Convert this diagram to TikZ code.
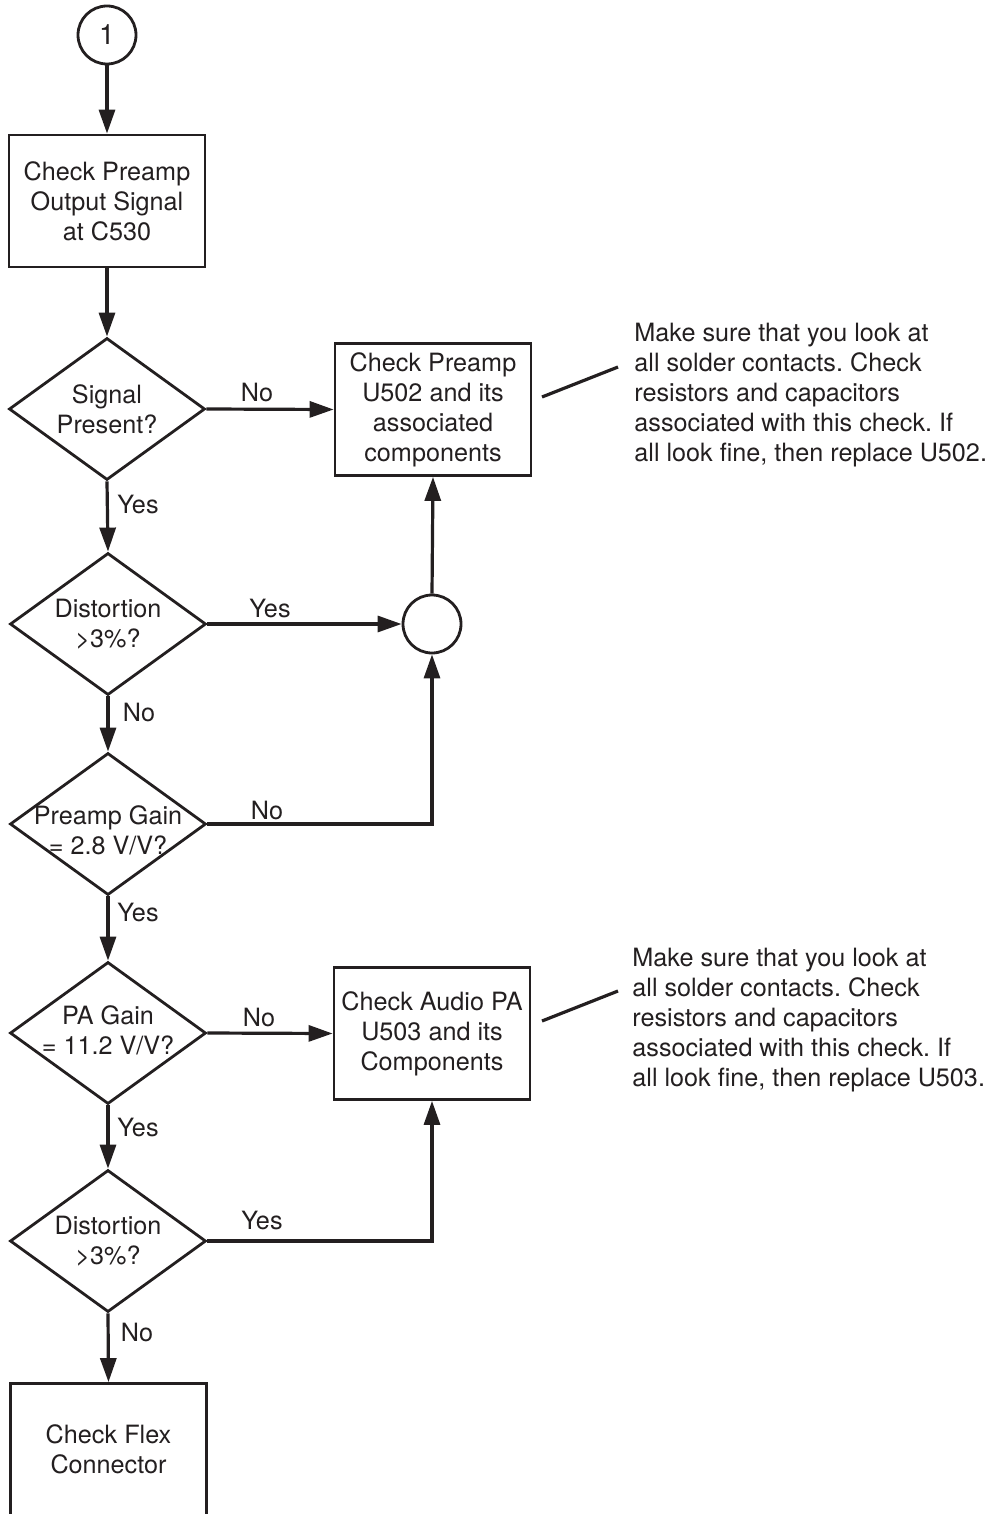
\documentclass[tikz,border=0pt]{standalone}
\usepackage{fontspec}
\setmainfont{TeX Gyre Heros}
\usetikzlibrary{arrows.meta,shapes.geometric,calc}
\definecolor{ink}{RGB}{35,31,32}
\tikzset{
  every node/.style={font=\fontsize{12.6}{15}\selectfont, text=ink},
  stepbox/.style={draw=ink, line width=1.4pt, rectangle, minimum width=98pt, minimum height=66pt, inner sep=0pt, align=center},
  decide/.style={draw=ink, line width=1.4pt, diamond, minimum width=98pt, minimum height=71pt, inner sep=0pt},
  dtext/.style={align=center, inner sep=0pt},
  joint/.style={draw=ink, line width=1.4pt, circle, minimum size=29pt, inner sep=0pt},
  flow/.style={draw=ink, line width=1.6pt, -{Triangle[length=12pt,width=8pt]}},
  plain/.style={draw=ink, line width=1.6pt},
  lab/.style={inner sep=0pt},
  note/.style={align=left, anchor=west, inner sep=0pt},
}
\begin{document}
\frenchspacing
\begin{tikzpicture}[x=0.5pt, y=-0.5pt]
\clip (0,0) rectangle (992,1514);
% start connector
\node[joint] (c1) at (107,35) {\fontsize{14}{15}\selectfont 1};
\node[stepbox] (b1) at (107,201) {Check Preamp\\Output Signal\\at C530};
% decisions
\node[decide] (d1) at (107,409) {};
\node[dtext] (t1) at (d1) {Signal\\Present?};
\node[decide] (d2) at (108,624) {};
\node[dtext] (t2) at (d2) {Distortion\\>3\%?};
\node[decide] (d3) at (108,824) {};
\node[dtext] (t3) at ($(d3)+(0,6)$) {Preamp Gain\\= 2.8 V/V?};
\node[decide] (d4) at (108,1033) {};
\node[dtext] (t4) at ($(d4)+(0,-3)$) {PA Gain\\= 11.2 V/V?};
\node[decide] (d5) at (108,1241) {};
\node[dtext] (t5) at (d5) {Distortion\\>3\%?};
% right side
\node[stepbox] (b2) at (433,409.5) {Check Preamp\\U502 and its\\associated\\components};
\node[joint] (c2) at (432,624) {};
\node[stepbox] (b3) at (432,1033.5) {Check Audio PA\\U503 and its\\Components};
\node[stepbox] (b4) at (108.5,1449.5) {Check Flex\\Connector};
% notes
\node[note] (n1) at (634,395) {Make sure that you look at\\all solder contacts. Check\\resistors and capacitors\\associated with this check. If\\all look fine, then replace U502.};
\node[note] (n2) at (632,1020) {Make sure that you look at\\all solder contacts. Check\\resistors and capacitors\\associated with this check. If\\all look fine, then replace U503.};
\coordinate (l1a) at (542,397);
\coordinate (l1b) at (618,367);
\coordinate (l2a) at (542,1021);
\coordinate (l2b) at (618,991);
\draw[plain] (l1a) -- (l1b);
\draw[plain] (l2a) -- (l2b);
% connectors
\draw[flow] (c1) -- (b1);
\draw[flow] (b1) -- (d1);
\draw[flow] (d1.east) -- (b2.west);
\draw[flow] (d1.south) -- (d2.north);
\draw[flow] (d2.east) -- (c2.west);
\draw[flow] (d2.south) -- (d3.north);
\draw[flow] (d3.east) -| (c2.south);
\draw[flow] (c2.north) -- (b2.south);
\draw[flow] (d3.south) -- (d4.north);
\draw[flow] (d4.east) -- (b3.west);
\draw[flow] (d4.south) -- (d5.north);
\draw[flow] (d5.east) -| (b3.south);
\draw[flow] (d5.south) -- (b4.north);
% labels
\node[lab] (y1) at (257,393) {No};
\node[lab] (y2) at (138,505) {Yes};
\node[lab] (y3) at (270,608) {Yes};
\node[lab] (y4) at (139,712) {No};
\node[lab] (y5) at (267,810) {No};
\node[lab] (y6) at (138,912) {Yes};
\node[lab] (y7) at (259,1017) {No};
\node[lab] (y8) at (138,1127) {Yes};
\node[lab] (y9) at (262,1220) {Yes};
\node[lab] (y10) at (137,1332) {No};
\end{tikzpicture}
\end{document}
